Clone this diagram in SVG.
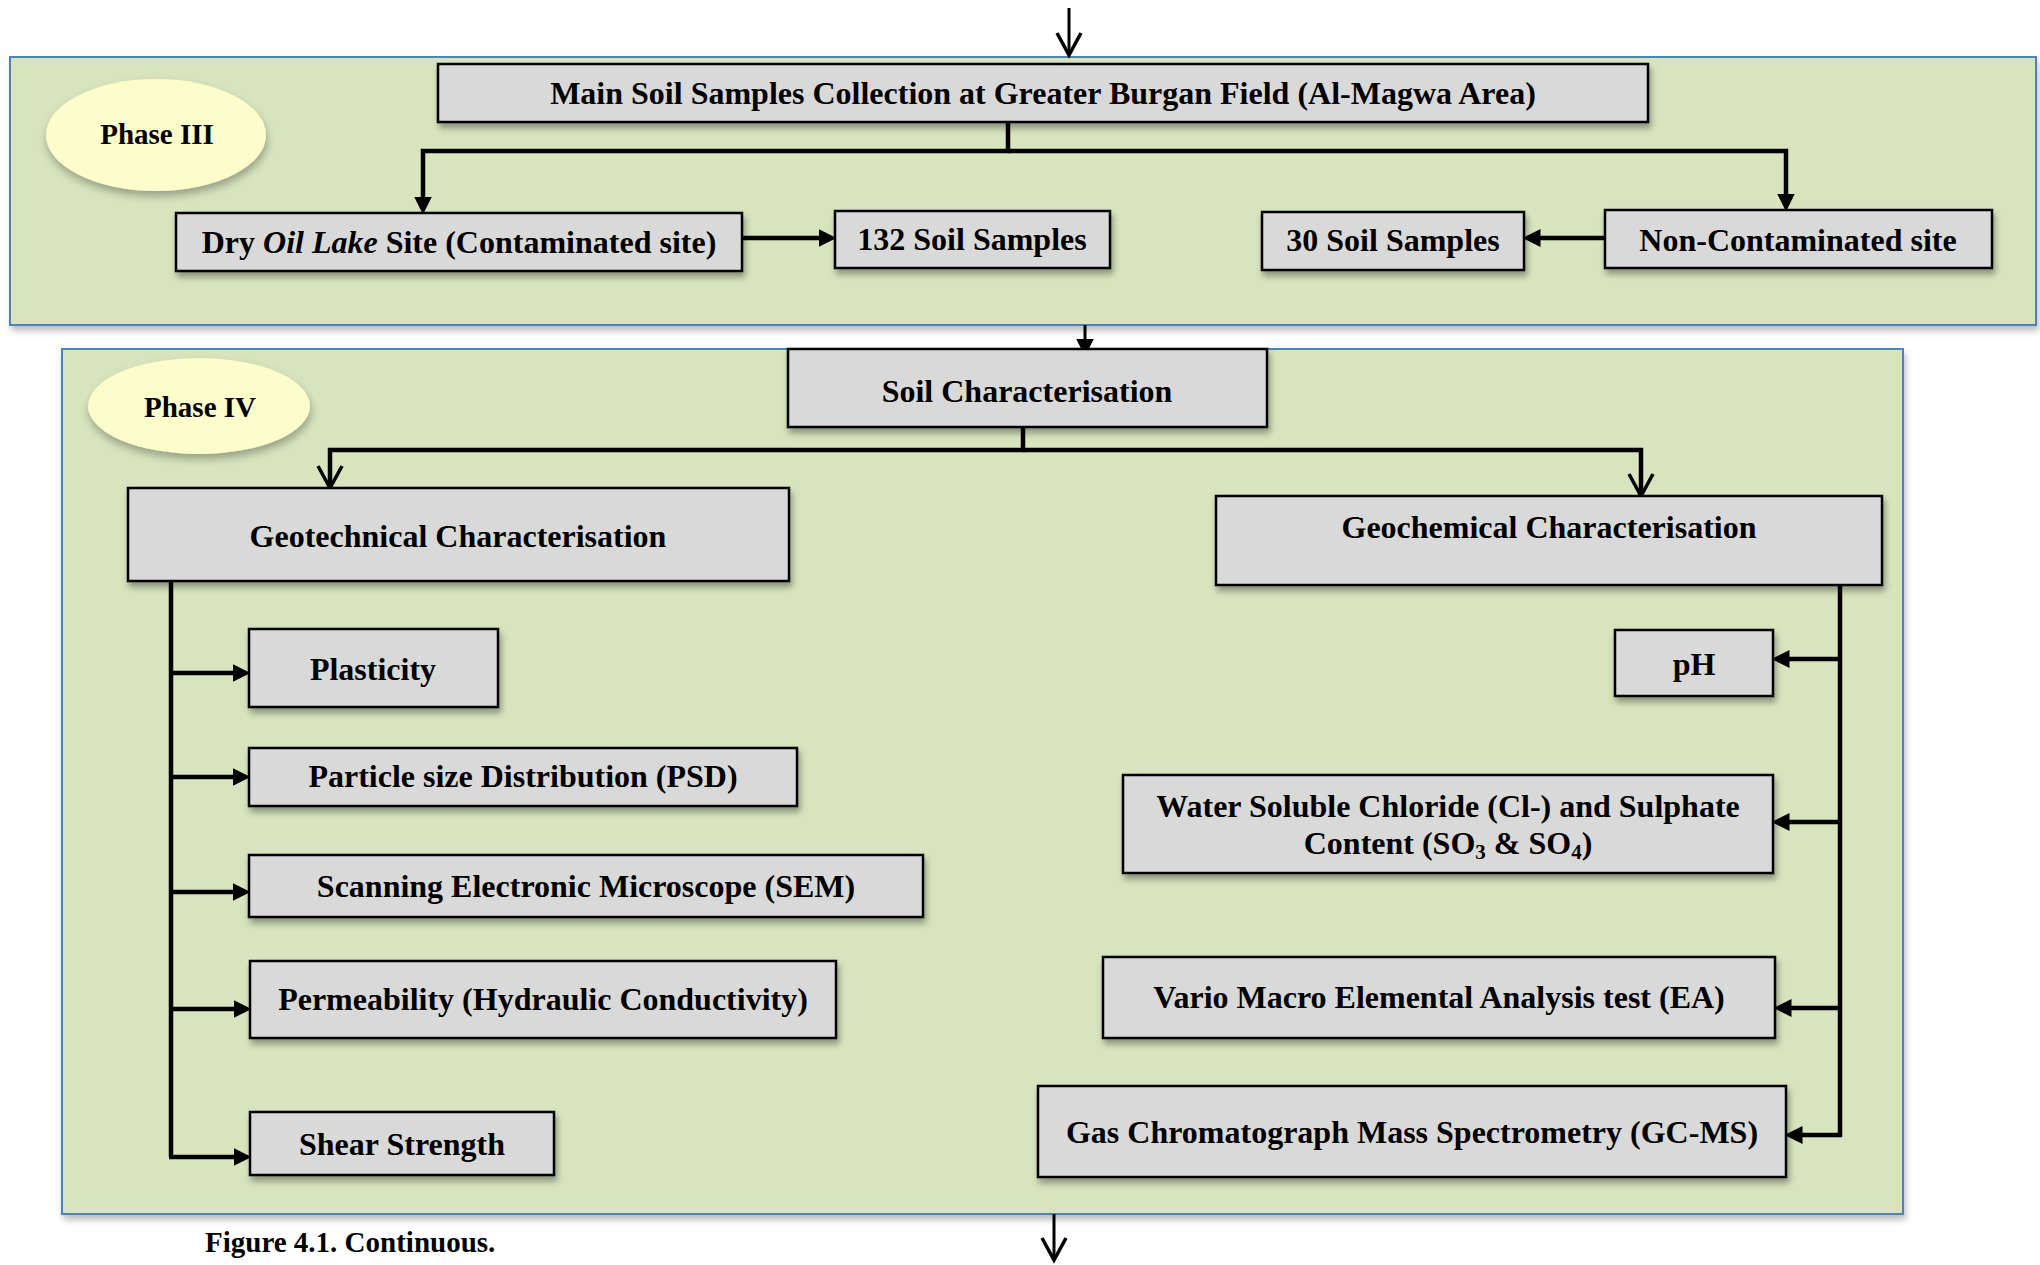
<svg xmlns="http://www.w3.org/2000/svg" width="2040" height="1265" viewBox="0 0 2040 1265">
<style>
.phase{fill:#d7e4bd;stroke:#4f81bd;stroke-width:2;filter:url(#shPhase)}
.oval{fill:#fdfdcc;filter:url(#shOval)}
.box{fill:#d9d9d9;stroke:#000;stroke-width:2.5;filter:url(#shBox)}
.t{font-family:"Liberation Serif","Times New Roman",serif;font-weight:bold;font-size:32px;fill:#000;text-anchor:middle}
.ph{font-size:29px}
.cap{font-size:29px;text-anchor:start}
.c{fill:none;stroke:#000;stroke-width:4.5}
.thin{stroke-width:3}
.tri{marker-end:url(#tri)}
.vee{marker-end:url(#vee)}
</style>
<defs>
<filter id="shBox" x="-5%" y="-10%" width="115%" height="140%"><feDropShadow dx="2" dy="5" stdDeviation="3" flood-color="#000" flood-opacity="0.35"/></filter>
<filter id="shPhase" x="-2%" y="-5%" width="104%" height="115%"><feDropShadow dx="2" dy="5" stdDeviation="3" flood-color="#000" flood-opacity="0.25"/></filter>
<filter id="shOval" x="-20%" y="-20%" width="140%" height="150%"><feDropShadow dx="1" dy="5" stdDeviation="4" flood-color="#000" flood-opacity="0.3"/></filter>
<marker id="tri" markerUnits="userSpaceOnUse" markerWidth="18" markerHeight="18" viewBox="0 0 16 16" refX="4" refY="8" orient="auto"><path d="M0,0 L16,8 L0,16 z" fill="#000"/></marker>
<marker id="vee" markerUnits="userSpaceOnUse" markerWidth="28" markerHeight="28" viewBox="-2 -2 28 28" refX="22" refY="12" orient="auto"><path d="M0,0 L22,12 L0,24" fill="none" stroke="#000" stroke-width="3.5"/></marker>
</defs>

<g id="phase3">
<rect class="phase" x="10" y="57" width="2026" height="268"/>
</g>
<g id="phase4">
<rect class="phase" x="62" y="349" width="1841" height="865"/>
</g>

<g id="phase3-label">
<ellipse class="oval" cx="156" cy="135" rx="110" ry="56"/>
<text class="t ph" x="157" y="144">Phase III</text>
</g>
<g id="phase4-label">
<ellipse class="oval" cx="199" cy="406" rx="111" ry="48"/>
<text class="t ph" x="200" y="417">Phase IV</text>
</g>

<g id="connectors">
<path class="c thin vee" d="M1069,8 V55"/>
<path class="c tri" d="M1008,122 V151 H423 V201"/>
<path class="c tri" d="M1008,151 H1786 V198"/>
<path class="c tri" d="M742,238 H823"/>
<path class="c tri" d="M1605,238 H1536"/>
<path class="c thin tri" d="M1085,325 V343"/>
<path class="c vee" d="M1023,427 V450 H330 V488"/>
<path class="c vee" d="M1023,450 H1641 V496"/>
<path class="c" d="M171,581 V1157"/>
<path class="c tri" d="M171,673 H237"/>
<path class="c tri" d="M171,777 H237"/>
<path class="c tri" d="M171,892 H237"/>
<path class="c tri" d="M171,1009 H238"/>
<path class="c tri" d="M169,1157 H238"/>
<path class="c" d="M1840,585 V1137"/>
<path class="c tri" d="M1840,659 H1785"/>
<path class="c tri" d="M1840,822 H1785"/>
<path class="c tri" d="M1840,1008 H1787"/>
<path class="c tri" d="M1842,1135 H1798"/>
<path class="c thin vee" d="M1054,1214 V1260"/>
</g>

<g id="main">
<rect class="box" x="438" y="64" width="1210" height="58"/>
<text class="t" x="1043" y="104">Main Soil Samples Collection at Greater Burgan Field (Al-Magwa Area)</text>
</g>
<g id="dry-oil-lake">
<rect class="box" x="176" y="213" width="566" height="58"/>
<text class="t" x="459" y="253">Dry <tspan font-style="italic">Oil Lake</tspan> Site (Contaminated site)</text>
</g>
<g id="samples-132">
<rect class="box" x="835" y="211" width="275" height="57"/>
<text class="t" x="972" y="250">132 Soil Samples</text>
</g>
<g id="samples-30">
<rect class="box" x="1262" y="212" width="262" height="58"/>
<text class="t" x="1393" y="251">30 Soil Samples</text>
</g>
<g id="non-contaminated">
<rect class="box" x="1605" y="210" width="387" height="58"/>
<text class="t" x="1798" y="251">Non-Contaminated site</text>
</g>
<g id="soil-char">
<rect class="box" x="788" y="349" width="479" height="78"/>
<text class="t" x="1027" y="402">Soil Characterisation</text>
</g>
<g id="geotech">
<rect class="box" x="128" y="488" width="661" height="93"/>
<text class="t" x="458" y="547">Geotechnical Characterisation</text>
</g>
<g id="geochem">
<rect class="box" x="1216" y="496" width="666" height="89"/>
<text class="t" x="1549" y="538">Geochemical Characterisation</text>
</g>
<g id="plasticity">
<rect class="box" x="249" y="629" width="249" height="78"/>
<text class="t" x="373" y="680">Plasticity</text>
</g>
<g id="psd">
<rect class="box" x="249" y="748" width="548" height="58"/>
<text class="t" x="523" y="787">Particle size Distribution (PSD)</text>
</g>
<g id="sem">
<rect class="box" x="249" y="855" width="674" height="62"/>
<text class="t" x="586" y="897">Scanning Electronic Microscope (SEM)</text>
</g>
<g id="permeability">
<rect class="box" x="250" y="961" width="586" height="77"/>
<text class="t" x="543" y="1010">Permeability (Hydraulic Conductivity)</text>
</g>
<g id="shear">
<rect class="box" x="250" y="1112" width="304" height="63"/>
<text class="t" x="402" y="1155">Shear Strength</text>
</g>
<g id="ph">
<rect class="box" x="1615" y="630" width="158" height="66"/>
<text class="t" x="1694" y="675">pH</text>
</g>
<g id="water-soluble">
<rect class="box" x="1123" y="775" width="650" height="98"/>
<text class="t" x="1448" y="817">Water Soluble Chloride (Cl-) and Sulphate</text>
<text class="t" x="1448" y="854">Content (SO<tspan font-size="21" dy="5">3</tspan><tspan dy="-5"> &amp; SO</tspan><tspan font-size="21" dy="5">4</tspan><tspan dy="-5">)</tspan></text>
</g>
<g id="vario">
<rect class="box" x="1103" y="957" width="672" height="81"/>
<text class="t" x="1439" y="1008">Vario Macro Elemental Analysis test (EA)</text>
</g>
<g id="gcms">
<rect class="box" x="1038" y="1086" width="748" height="91"/>
<text class="t" x="1412" y="1143">Gas Chromatograph Mass Spectrometry (GC-MS)</text>
</g>

<text class="t cap" x="205" y="1252">Figure 4.1. Continuous.</text>
</svg>
